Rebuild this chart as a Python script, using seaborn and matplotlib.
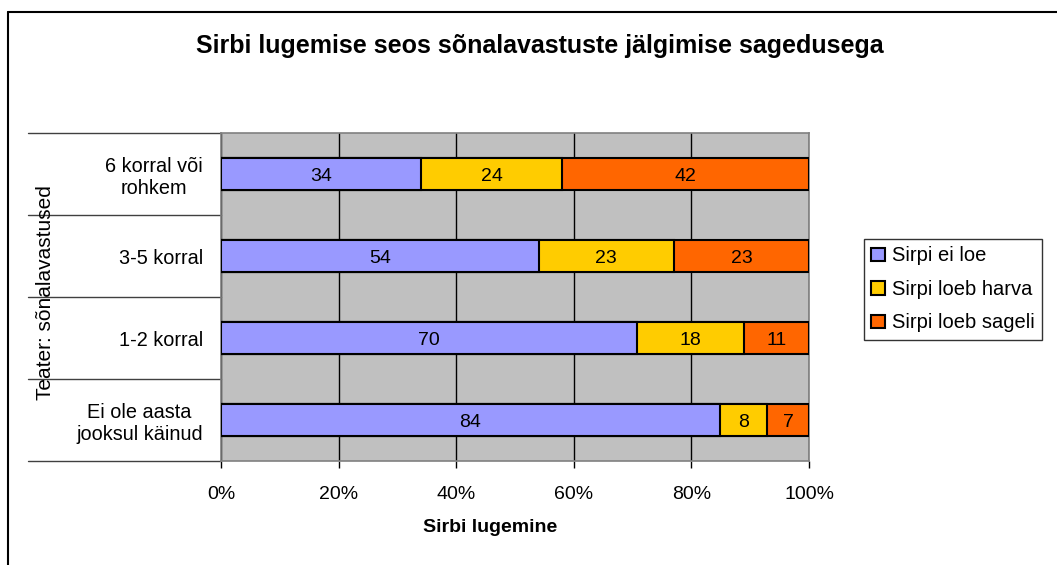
import pandas as pd
import numpy as np
import matplotlib.pyplot as plt
import seaborn as sns
from matplotlib.patches import Patch
from matplotlib.transforms import blended_transform_factory

# Andmed (loetud pildilt)
kategooriad = ['6 korral või\nrohkem', '3-5 korral', '1-2 korral', 'Ei ole aasta\njooksul käinud']
ei_loe = [34, 54, 70, 84]
loeb_harva = [24, 23, 18, 8]
loeb_sageli = [42, 23, 11, 7]
seeriad = ['Sirpi ei loe', 'Sirpi loeb harva', 'Sirpi loeb sageli']
varvid = ['#9999FF', '#FFCC00', '#FF6600']

df = pd.DataFrame({'kat': kategooriad, 'ei': ei_loe, 'harva': loeb_harva, 'sageli': loeb_sageli})
summa = df[['ei', 'harva', 'sageli']].sum(axis=1)
df['p_ei'] = df['ei'] / summa * 100
df['p_harva'] = df['harva'] / summa * 100
df['p_sageli'] = df['sageli'] / summa * 100
df['kum1'] = df['p_ei']
df['kum2'] = df['p_ei'] + df['p_harva']
df['kum3'] = df['kum2'] + df['p_sageli']

sns.set_theme(style='white')
plt.rcParams['font.family'] = ['Liberation Sans', 'DejaVu Sans']
plt.rcParams['text.color'] = 'black'
plt.rcParams['xtick.color'] = 'black'
plt.rcParams['ytick.color'] = 'black'

W, H = 1057, 565
fig = plt.figure(figsize=(W / 100, H / 100), dpi=100)
ax = fig.add_axes([221 / W, 1 - 461 / H, 588 / W, 328 / H])
ax.set_facecolor('#C0C0C0')

# Virnastatud tulbad: suurim kumulatiivne enne
for col, c in zip(['kum3', 'kum2', 'kum1'], varvid[::-1]):
    sns.barplot(data=df, x=col, y='kat', orient='h', color=c, width=0.39,
                edgecolor='black', linewidth=1.5, saturation=1, ax=ax, zorder=3)

# Väärtused keskele
for i, row in df.iterrows():
    algus = 0
    for v, p in zip([row['ei'], row['harva'], row['sageli']],
                    [row['p_ei'], row['p_harva'], row['p_sageli']]):
        ax.annotate(f'{v}', (algus + p / 2, i), xytext=(0, -1.5), textcoords='offset points',
                    ha='center', va='center', fontsize=14, color='black', zorder=5)
        algus += p

ax.set_xlim(0, 100)
ax.set_ylim(3.5, -0.5)
ax.set_xticks([0, 20, 40, 60, 80, 100])
ax.set_xticklabels(['0%', '20%', '40%', '60%', '80%', '100%'])
ax.xaxis.grid(True, color='black', linewidth=1)
ax.set_axisbelow(True)
ax.set_xlabel('')
ax.set_ylabel('')
ax.tick_params(axis='x', length=5, width=1, color='black', direction='out',
               labelsize=14, pad=13, bottom=True)
ax.tick_params(axis='y', length=0, labelsize=14.3, pad=13)
for lab in ax.get_yticklabels():
    lab.set_multialignment('center')
for s in ax.spines.values():
    s.set_color('#808080')
    s.set_linewidth(1.2)

# Kategooriate eraldusjooned vasakul
tr = blended_transform_factory(ax.transAxes, ax.transData)
for b in [-0.5, 0.5, 1.5, 2.5, 3.5]:
    ax.plot([(28 - 221) / 588, 0], [b, b], transform=tr, color='#404040',
            linewidth=1, clip_on=False)

# Tekstid
fig.text(540 / W, 1 - 46 / H, 'Sirbi lugemise seos sõnalavastuste jälgimise sagedusega',
         ha='center', va='center', fontsize=18, fontweight='bold')
fig.text(490 / W, 1 - 528 / H, 'Sirbi lugemine', ha='center', va='center',
         fontsize=14, fontweight='bold')
fig.text(46 / W, 1 - 293 / H, 'Teater: sõnalavastused', ha='center', va='center',
         rotation=90, fontsize=15)

# Legend
kasid = [Patch(facecolor=c, edgecolor='black', linewidth=1.5) for c in varvid]
leg = fig.legend(kasid, seeriad, loc='upper left',
                 bbox_to_anchor=(864 / W, 1 - 239 / H), fontsize=14.5,
                 frameon=True, fancybox=False, edgecolor='black',
                 handlelength=0.65, handleheight=0.65, handletextpad=0.35,
                 borderpad=0.37, labelspacing=0.72, borderaxespad=0)
leg.get_frame().set_linewidth(1)

# Välimine raam
fig.add_artist(plt.Line2D([8 / W, 8 / W], [0, 1 - 12 / H], color='black', linewidth=1.5))
fig.add_artist(plt.Line2D([8 / W, 1], [1 - 12 / H, 1 - 12 / H], color='black', linewidth=1.5))

fig.savefig('out.png', dpi=100)
